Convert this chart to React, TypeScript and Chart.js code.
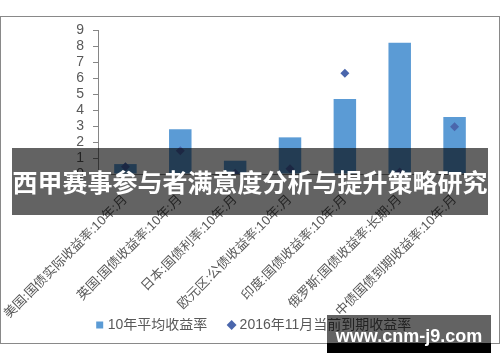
import React, { useEffect, useRef } from "react";
import { Chart, registerables } from "chart.js";

Chart.register(...registerables);

const categories: string[] = [
  "美国:国债实际收益率:10年:月",
  "英国:国债收益率:10年:月",
  "日本:国债利率:10年:月",
  "欧元区:公债收益率:10年:月",
  "印度:国债收益率:10年:月",
  "俄罗斯:国债收益率:长期:月",
  "中债国债到期收益率:10年:月",
];
const avg10y: number[] = [0.62, 2.79, 0.83, 2.29, 4.69, 8.21, 3.56];
const current201611: number[] = [0.46, 1.46, 0.05, 0.33, 6.29, 0.12, 2.96];
const seriesNames: string[] = ["10年平均收益率", "2016年11月当前到期收益率"];
const yTicks: number[] = [0, 1, 2, 3, 4, 5, 6, 7, 8, 9];

const bannerText = "西甲赛事参与者满意度分析与提升策略研究";
const watermarkText = "www.cnm-j9.com";

const FONT = "'Liberation Sans', 'Noto Sans CJK SC', sans-serif";
const LEGEND_GAP = "      ";

export default function App() {
  const ref = useRef<HTMLCanvasElement | null>(null);

  useEffect(() => {
    if (!ref.current) return;
    const chart = new Chart(ref.current, {
      type: "bar",
      data: {
        labels: categories,
        datasets: [
          {
            type: "bar",
            label: seriesNames[0],
            data: avg10y,
            backgroundColor: "#5b9bd5",
            borderWidth: 0,
            barPercentage: 0.41,
            categoryPercentage: 1,
            pointStyle: "rect",
            order: 2,
          } as any,
          {
            type: "line",
            label: seriesNames[1],
            data: current201611,
            showLine: false,
            pointStyle: "rectRot",
            pointRadius: 4.5,
            backgroundColor: "#4a66ac",
            borderColor: "#4a66ac",
            borderWidth: 0,
            order: 1,
          } as any,
        ],
      },
      options: {
        responsive: false,
        animation: false,
        layout: { padding: { top: 30, left: 28, right: 18, bottom: 20 } },
        plugins: {
          tooltip: { enabled: false },
          legend: {
            position: "bottom",
            labels: {
              usePointStyle: true,
              boxWidth: 2,
              boxHeight: 7,
              padding: 0,
              color: "#595959",
              font: { family: FONT, size: 14 },
              sort: (a: any, b: any) => a.datasetIndex - b.datasetIndex,
              generateLabels: (c: any) => {
                const items = Chart.defaults.plugins.legend.labels.generateLabels(c);
                return items.map((it: any) =>
                  it.datasetIndex === 0 ? { ...it, text: it.text + LEGEND_GAP } : it
                );
              },
            },
          },
        },
        scales: {
          x: {
            grid: { display: false },
            border: { display: true, color: "#868686", width: 1 },
            ticks: {
              autoSkip: false,
              minRotation: 45,
              maxRotation: 45,
              padding: 10,
              color: "#595959",
              font: { family: FONT, size: 13 },
            },
            afterFit: (scale: any) => {
              scale.height = 144;
              scale.paddingLeft = 0;
              scale.paddingRight = 0;
            },
          },
          y: {
            min: 0,
            max: 9,
            afterBuildTicks: (scale: any) => {
              scale.ticks = yTicks.map((v) => ({ value: v }));
            },
            grid: {
              drawOnChartArea: false,
              drawTicks: true,
              tickLength: 5,
              color: "#868686",
            },
            border: { display: true, color: "#868686", width: 1 },
            ticks: {
              autoSkip: false,
              stepSize: 1,
              padding: 9,
              color: "#595959",
              font: { family: FONT, size: 14 },
            },
            afterFit: (scale: any) => {
              scale.width = 70;
            },
          },
        },
      },
    });
    return () => chart.destroy();
  }, []);

  return (
    <div
      style={{
        position: "fixed",
        left: 0,
        top: 0,
        width: 500,
        height: 362,
        background: "#fff",
        overflow: "hidden",
      }}
    >
      <div
        style={{
          position: "absolute",
          left: 0,
          top: 16,
          width: 498,
          height: 326,
          border: "1px solid #898989",
        }}
      />
      <canvas
        ref={ref}
        width={500}
        height={362}
        style={{ position: "absolute", left: 0, top: 0, width: 500, height: 362 }}
      />
      <div
        style={{
          position: "absolute",
          left: 12,
          top: 148,
          width: 476,
          height: 67,
          background: "rgba(0,0,0,0.61)",
          color: "#fff",
          fontFamily: "'Noto Sans CJK SC', sans-serif",
          fontWeight: 700,
          fontSize: 25,
          lineHeight: "67px",
          textAlign: "center",
          whiteSpace: "nowrap",
          letterSpacing: 0,
        }}
      >
        {bannerText}
      </div>
      <div
        style={{
          position: "absolute",
          left: 327,
          top: 315,
          width: 164,
          height: 28,
          background: "rgba(0,0,0,0.61)",
        }}
      />
      <div
        style={{
          position: "absolute",
          left: 327,
          top: 343,
          width: 164,
          height: 10,
          background: "#000",
        }}
      />
      <div
        style={{
          position: "absolute",
          left: 327,
          top: 325,
          width: 164,
          height: 22,
          color: "#fff",
          fontFamily: "'Liberation Sans', sans-serif",
          fontWeight: 700,
          fontSize: 18,
          lineHeight: "22px",
          textAlign: "center",
          whiteSpace: "nowrap",
        }}
      >
        {watermarkText}
      </div>
    </div>
  );
}
